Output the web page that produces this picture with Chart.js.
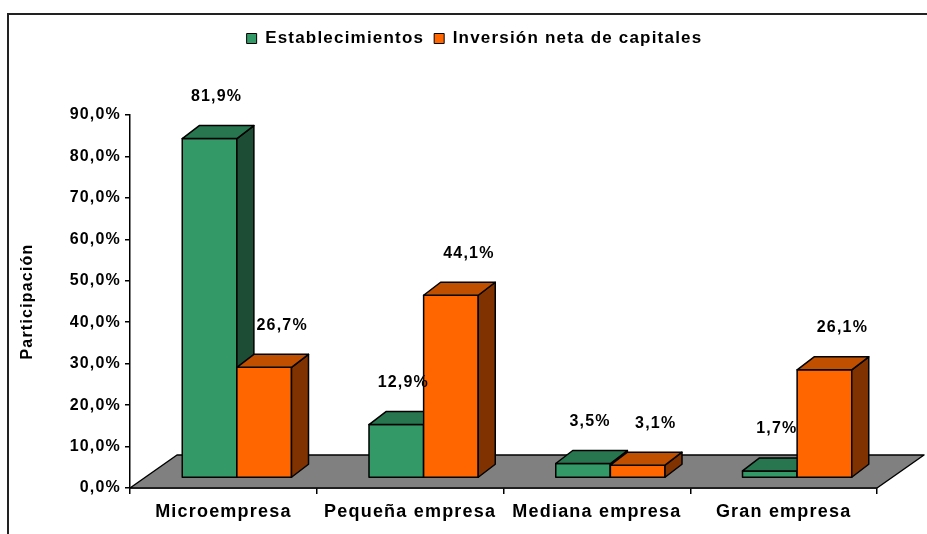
<!DOCTYPE html>
<html>
<head>
<meta charset="utf-8">
<script src="https://cdn.jsdelivr.net/npm/chart.js@4.4.0/dist/chart.umd.min.js"></script>
<style>
  html, body { margin: 0; padding: 0; background: #fff; }
</style>
</head>
<body>
<canvas id="participacionChart" width="927" height="534"></canvas>
<script>
// datos del grafico
const categorias = ["Microempresa", "Pequeña empresa", "Mediana empresa", "Gran empresa"];
const establecimientos = [81.9, 12.9, 3.5, 1.7];
const inversion = [26.7, 44.1, 3.1, 26.1];
const ejeMin = 0;
const ejeMax = 90;
const ejePaso = 10;

const FUENTE = "'Liberation Sans', Arial, sans-serif";

// formato 81,9%
function pct(v) {
  return v.toFixed(1).replace(".", ",") + "%";
}

// colores de cada serie: frente, tapa, lado
const caras = [
  { frente: "#339966", tapa: "#287650", lado: "#1e4d36" },
  { frente: "#ff6600", tapa: "#c04f00", lado: "#803300" },
];

// profundidades del efecto 3D
const PISO = { dx: 47, dy: -33 };
const DESP = { dx: 13.5, dy: -10 };
const PROF = { dx: 17, dy: -13 };
const correrEtiqueta = [7, 18];

function poligono(ctx, pts, relleno) {
  ctx.beginPath();
  ctx.moveTo(pts[0][0], pts[0][1]);
  for (let i = 1; i < pts.length; i++) ctx.lineTo(pts[i][0], pts[i][1]);
  ctx.closePath();
  ctx.fillStyle = relleno;
  ctx.fill();
  ctx.stroke();
}

const barras3d = {
  id: "barras3d",
  beforeUpdate(chart) {
    chart.ctx.letterSpacing = "1.2px";
  },
  afterLayout(chart) {
    // subir la leyenda hasta arriba del recuadro y correrla a la derecha
    const ley = chart.legend;
    const alto = ley.bottom - ley.top;
    ley.top = 20;
    ley.bottom = 20 + alto;
    ley.left += 31;
    ley.right += 31;
  },
  beforeDraw(chart) {
    const ctx = chart.ctx;
    ctx.letterSpacing = "1.2px";
    ctx.save();
    ctx.fillStyle = "#fff";
    ctx.fillRect(0, 0, chart.width, chart.height);
    ctx.strokeStyle = "#222";
    ctx.lineWidth = 2;
    ctx.beginPath();
    ctx.moveTo(8, chart.height);
    ctx.lineTo(8, 14);
    ctx.lineTo(chart.width, 14);
    ctx.stroke();
    ctx.restore();
  },
  beforeDatasetsDraw(chart) {
    // piso gris
    const ctx = chart.ctx;
    const a = chart.chartArea;
    const y0 = chart.scales.y.getPixelForValue(0);
    ctx.save();
    ctx.strokeStyle = "#000";
    ctx.lineWidth = 1.5;
    ctx.lineJoin = "round";
    poligono(ctx, [
      [a.left, y0],
      [a.right, y0],
      [a.right + PISO.dx, y0 + PISO.dy],
      [a.left + PISO.dx, y0 + PISO.dy],
    ], "#808080");
    ctx.restore();
  },
  beforeDatasetDraw() {
    return false;
  },
  afterDatasetsDraw(chart) {
    const ctx = chart.ctx;
    const n = chart.data.labels.length;
    ctx.save();
    ctx.strokeStyle = "#000";
    ctx.lineWidth = 1.5;
    ctx.lineJoin = "round";
    for (let i = 0; i < n; i++) {
      chart.data.datasets.forEach((ds, d) => {
        const bar = chart.getDatasetMeta(d).data[i];
        const c = caras[d];
        const x1 = bar.x - bar.width / 2 + DESP.dx;
        const x2 = bar.x + bar.width / 2 + DESP.dx;
        const yt = bar.y + DESP.dy;
        const yb = bar.base + DESP.dy;
        // frente
        poligono(ctx, [[x1, yb], [x2, yb], [x2, yt], [x1, yt]], c.frente);
        // lado
        poligono(ctx, [[x2, yb], [x2 + PROF.dx, yb + PROF.dy], [x2 + PROF.dx, yt + PROF.dy], [x2, yt]], c.lado);
        // tapa
        poligono(ctx, [[x1, yt], [x2, yt], [x2 + PROF.dx, yt + PROF.dy], [x1 + PROF.dx, yt + PROF.dy]], c.tapa);
      });
    }
    // etiquetas de valores
    ctx.fillStyle = "#000";
    ctx.font = "bold 16px " + FUENTE;
    ctx.textAlign = "center";
    ctx.textBaseline = "middle";
    chart.data.datasets.forEach((ds, d) => {
      chart.getDatasetMeta(d).data.forEach((bar, i) => {
        const x = bar.x + DESP.dx + correrEtiqueta[d];
        const y = bar.y + DESP.dy + PROF.dy - 29;
        ctx.fillText(pct(ds.data[i]), x, y);
      });
    });
    ctx.restore();
  },
};

const ctx = document.getElementById("participacionChart").getContext("2d");
const participacionChart = new Chart(ctx, {
  type: "bar",
  data: {
    labels: categorias,
    datasets: [
      {
        label: "Establecimientos",
        data: establecimientos,
        backgroundColor: caras[0].frente,
        borderColor: "#000",
        borderWidth: 1,
      },
      {
        label: "Inversión neta de capitales",
        data: inversion,
        backgroundColor: caras[1].frente,
        borderColor: "#000",
        borderWidth: 1,
      },
    ],
  },
  options: {
    responsive: false,
    animation: false,
    categoryPercentage: 0.585,
    barPercentage: 1,
    layout: {
      padding: { top: 78, left: 10, right: 50, bottom: 0 },
    },
    scales: {
      x: {
        afterFit(scale) {
          scale.height = 46;
        },
        border: { display: true, color: "#000", width: 1.5 },
        grid: {
          display: true,
          drawOnChartArea: false,
          drawTicks: true,
          tickLength: 6,
          color: "#000",
          lineWidth: 1.5,
        },
        ticks: {
          color: "#000",
          font: { family: FUENTE, size: 18, weight: "bold" },
          padding: 7,
          autoSkip: false,
          maxRotation: 0,
        },
      },
      y: {
        min: ejeMin,
        max: ejeMax,
        afterFit(scale) {
          scale.width = 120;
        },
        border: { display: true, color: "#000", width: 1.5 },
        grid: {
          display: true,
          drawOnChartArea: false,
          drawTicks: true,
          tickLength: 5,
          color: "#000",
          lineWidth: 1.5,
        },
        ticks: {
          stepSize: ejePaso,
          color: "#000",
          font: { family: FUENTE, size: 16, weight: "bold" },
          padding: 4,
          callback: (v) => pct(v),
        },
        title: {
          display: true,
          text: "Participación",
          color: "#000",
          font: { family: FUENTE, size: 16, weight: "bold" },
          padding: { top: 8, bottom: 0 },
        },
      },
    },
    plugins: {
      legend: {
        position: "top",
        labels: {
          color: "#000",
          font: { family: FUENTE, size: 17, weight: "bold" },
          boxWidth: 10,
          boxHeight: 10,
          padding: 10,
        },
      },
      tooltip: { enabled: false },
    },
  },
  plugins: [barras3d],
});
</script>
</body>
</html>
